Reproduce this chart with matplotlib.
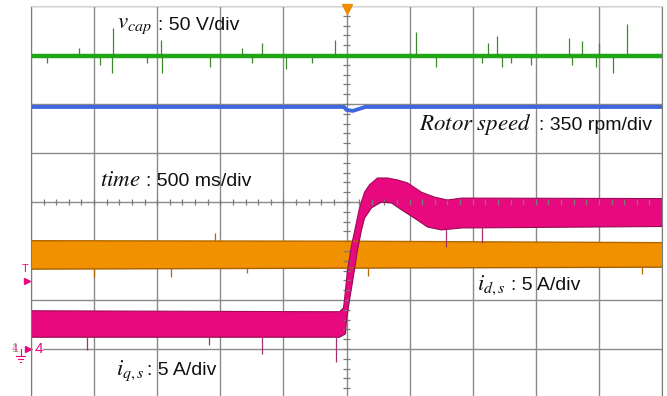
import numpy as np
import matplotlib.pyplot as plt

plt.rcParams['font.family'] = ['Liberation Sans', 'DejaVu Sans']
plt.rcParams['mathtext.fontset'] = 'stix'

# eje x: tiempo en s respecto al disparo (500 ms/div); eje y: divisiones respecto al centro
# v_cap (verde)
vcap_t = [-2.5, 2.5]
vcap_y = [2.98, 2.98]
vcap_spk_t = [-2.37, -2.12, -1.95, -1.86, -1.85, -1.58, -1.47, -1.46, -1.08, -0.83, -0.75,
              -0.67, -0.48, -0.27, -0.09, 0.55, 0.71, 1.07, 1.12, 1.19, 1.23, 1.30, 1.46,
              1.76, 1.79, 1.87, 1.98, 2.00, 2.11, 2.22]
vcap_spk_y = [2.84, 3.14, 2.80, 2.63, 3.55, 2.84, 3.31, 2.63, 2.76, 3.14, 2.84,
              3.24, 2.71, 2.84, 3.31, 3.47, 2.76, 2.84, 3.24, 3.39, 2.76, 2.84, 2.80,
              3.35, 2.80, 3.29, 2.76, 3.24, 2.63, 3.63]

# velocidad del rotor (azul)
vel_t = [-2.5, -0.02, 0.0, 0.05, 0.10, 0.15, 2.5]
vel_y = [1.94, 1.94, 1.88, 1.86, 1.90, 1.94, 1.94]

# i_d,s (naranja): envolvente superior e inferior
id_t = [-2.5, 0.0, 2.5]
id_sup = [-0.79, -0.80, -0.83]
id_inf = [-1.37, -1.35, -1.33]
id_spk_t = [-2.00, -1.39, -0.79, -1.04, 0.17, 2.34]
id_spk_y0 = [-1.35, -1.35, -1.35, -0.80, -1.35, -1.33]
id_spk_y1 = [-1.53, -1.53, -1.45, -0.63, -1.51, -1.47]

# i_q,s (magenta): envolvente superior e inferior
iq_t_sup = [-2.5, -0.055, -0.024, -0.016, 0.008, 0.040, 0.063, 0.103, 0.143, 0.182, 0.246,
            0.325, 0.404, 0.483, 0.594, 0.697, 0.800, 0.911, 2.5]
iq_sup = [-2.22, -2.24, -2.16, -2.00, -1.39, -0.88, -0.61, -0.12, 0.20, 0.35, 0.49,
          0.49, 0.45, 0.39, 0.20, 0.10, 0.04, 0.08, 0.07]
iq_t_inf = [-2.5, -0.055, -0.008, 0.0, 0.024, 0.063, 0.087, 0.119, 0.143, 0.198, 0.277,
            0.357, 0.436, 0.539, 0.642, 0.753, 0.911, 2.5]
iq_inf = [-2.76, -2.76, -2.69, -2.41, -2.00, -1.39, -0.98, -0.57, -0.33, -0.12, 0.00,
          -0.02, -0.16, -0.33, -0.51, -0.57, -0.53, -0.50]
iq_spk_t = [-2.06, -1.09, -0.67, -0.08, 0.79, 1.07]
iq_spk_y0 = [-2.76, -2.76, -2.76, -2.76, -0.55, -0.52]
iq_spk_y1 = [-3.02, -2.92, -3.10, -3.27, -0.92, -0.84]

fig = plt.figure(figsize=(6.67, 3.96), dpi=100)
ax = fig.add_axes([31/667, -2/396, 631/667, 392/396])
ax.set_xlim(-2.5, 2.5)
ax.set_ylim(-4, 4)
ax.set_xticks(np.arange(-2.5, 2.51, 0.5))
ax.set_yticks(np.arange(-4, 4.01, 1))
ax.tick_params(length=0, labelbottom=False, labelleft=False)
ax.grid(True, color='#8a8a8a', lw=1.0)
ax.set_axisbelow(True)
for lado in ['left', 'right', 'bottom']:
    ax.spines[lado].set_color('#7a7a7a')
ax.spines['top'].set_color('#d2d2d2')

# marcas menores sobre los ejes centrales
ax.vlines(np.arange(-2.5, 2.51, 0.1), -0.06, 0.06, color='#7a7a7a', lw=0.9)
ax.hlines(np.arange(-4, 4.01, 0.2), -0.024, 0.024, color='#7a7a7a', lw=0.9)

# trazas
ax.plot(vcap_t, vcap_y, color='#22a614', lw=3.2, solid_capstyle='butt')
ax.vlines(vcap_spk_t, vcap_y[0], vcap_spk_y, color='#3a8a2a', lw=0.9)
ax.plot(vel_t, vel_y, color='#3d66df', lw=2.8, solid_capstyle='butt')

ax.fill(np.r_[id_t, id_t[::-1]], np.r_[id_sup, id_inf[::-1]], color='#f29100', lw=0)
ax.plot(id_t, id_sup, color='#b06800', lw=1.0)
ax.plot(id_t, id_inf, color='#a86000', lw=1.0)
ax.vlines(id_spk_t, id_spk_y0, id_spk_y1, color='#b06800', lw=0.9)

ax.fill(np.r_[iq_t_sup, iq_t_inf[::-1]], np.r_[iq_sup, iq_inf[::-1]], color='#e8097f', lw=0)
ax.plot(iq_t_sup, iq_sup, color='#a00a58', lw=0.8)
ax.plot(iq_t_inf, iq_inf, color='#960a52', lw=0.8)
ax.vlines(iq_spk_t, iq_spk_y0, iq_spk_y1, color='#a4306e', lw=0.9)

# etiquetas: parte matemática en serif itálica, escala en sans
mt = dict(fontsize=16.5, ha='left', va='baseline', color='#111111')
st = dict(fontsize=14, ha='left', va='baseline', color='#111111')
ax.text(-1.815, 3.55, r'$v_{cap}$', **mt)
ax.text(-1.49, 3.51, ': 50 V/div', **st)
ax.text(-1.957, 0.33, r'$time$', **mt)
ax.text(-1.585, 0.33, ': 500 ms/div', **st)
ax.text(0.578, 1.47, r'$Rotor\ speed$', **mt)
ax.text(1.529, 1.47, ': 350 rpm/div', **st)
ax.text(1.038, -1.80, r'$i_{d,s}$', **mt)
ax.text(1.307, -1.80, ': 5 A/div', **st)
ax.text(-1.830, -3.53, r'$i_{q,s}$', **mt)
ax.text(-1.577, -3.53, ': 5 A/div', **st)

# marcadores del osciloscopio
ax.plot([0], [3.93], marker='v', ms=7, color='#f08c00', clip_on=False, zorder=5)
ax.text(-2.545, -1.37, 'T', fontsize=8, color='#e8097f', ha='center', va='center', clip_on=False)
ax.plot([-2.53], [-1.61], marker='>', ms=5, color='#e8097f', clip_on=False)
ax.plot([-2.525], [-3.0], marker='>', ms=5, color='#e8097f', clip_on=False)
ax.text(-2.475, -3.0, '4', fontsize=11, color='#e8097f', ha='left', va='center',
        bbox=dict(facecolor='white', edgecolor='none', pad=0.5))
ax.text(-2.63, -3.0, '1', fontsize=9, color='#5fc35f', ha='center', va='center', clip_on=False)
ax.text(-2.625, -3.0, '4', fontsize=8, color='#e8097f', alpha=0.6, ha='center', va='center')
ax.plot([-2.583, -2.583], [-3.0, -3.14], color='#e8097f', lw=0.8, clip_on=False)
ax.plot([-2.615, -2.551], [-3.14, -3.14], color='#e8097f', lw=0.8, clip_on=False)
ax.plot([-2.603, -2.563], [-3.20, -3.20], color='#e8097f', lw=0.8, clip_on=False)
ax.plot([-2.590, -2.576], [-3.26, -3.26], color='#e8097f', lw=0.8, clip_on=False)

plt.savefig('out.png', dpi=100)
